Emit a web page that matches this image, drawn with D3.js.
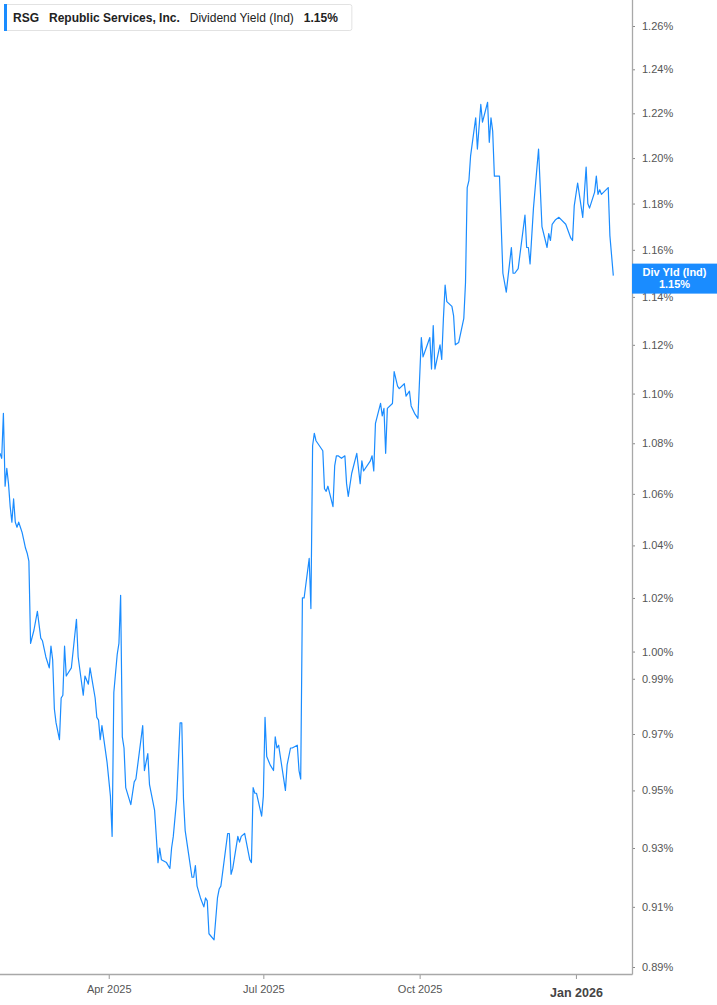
<!DOCTYPE html>
<html>
<head>
<meta charset="utf-8">
<script src="https://cdn.jsdelivr.net/npm/d3@7"></script>
<style>
  body { margin: 0; background: #fff; }
  svg { display: block; font-family: "Liberation Sans", Arial, sans-serif; }
</style>
</head>
<body>
<svg id="chart" width="717" height="1005"></svg>
<script>
// Dividend yield (Ind), RSG, daily readings in percent
const dates = [
  "2025-01-27", "2025-01-28", "2025-01-29", "2025-01-30", "2025-01-31",
  "2025-02-01", "2025-02-02", "2025-02-03", "2025-02-04", "2025-02-05", "2025-02-06", "2025-02-07",
  "2025-02-08", "2025-02-09", "2025-02-10", "2025-02-11", "2025-02-12", "2025-02-13", "2025-02-14",
  "2025-02-16", "2025-02-18", "2025-02-20", "2025-02-21", "2025-02-23", "2025-02-25", "2025-02-26",
  "2025-02-27", "2025-02-28",
  "2025-03-01", "2025-03-03", "2025-03-04", "2025-03-05", "2025-03-06", "2025-03-07", "2025-03-10",
  "2025-03-13", "2025-03-14", "2025-03-17", "2025-03-18", "2025-03-20", "2025-03-21", "2025-03-24",
  "2025-03-25", "2025-03-26", "2025-03-27", "2025-03-28", "2025-03-31",
  "2025-04-02", "2025-04-03", "2025-04-04", "2025-04-06", "2025-04-07", "2025-04-08", "2025-04-09",
  "2025-04-10", "2025-04-11", "2025-04-14", "2025-04-16", "2025-04-17", "2025-04-21", "2025-04-22",
  "2025-04-24", "2025-04-25", "2025-04-28", "2025-04-30",
  "2025-05-01", "2025-05-02", "2025-05-05", "2025-05-07", "2025-05-08", "2025-05-09", "2025-05-11",
  "2025-05-13", "2025-05-14", "2025-05-15", "2025-05-16", "2025-05-18", "2025-05-20", "2025-05-21",
  "2025-05-22", "2025-05-23", "2025-05-25", "2025-05-27", "2025-05-28", "2025-05-29", "2025-05-30",
  "2025-06-02", "2025-06-04", "2025-06-05", "2025-06-06", "2025-06-10", "2025-06-11", "2025-06-12",
  "2025-06-13", "2025-06-16", "2025-06-17", "2025-06-18", "2025-06-20", "2025-06-23", "2025-06-24",
  "2025-06-25", "2025-06-26", "2025-06-27", "2025-06-30",
  "2025-07-01", "2025-07-02", "2025-07-03", "2025-07-05", "2025-07-07", "2025-07-08", "2025-07-09",
  "2025-07-10", "2025-07-14", "2025-07-15", "2025-07-17", "2025-07-18", "2025-07-21", "2025-07-22",
  "2025-07-23", "2025-07-24", "2025-07-25", "2025-07-28", "2025-07-29", "2025-07-30", "2025-07-31",
  "2025-08-01", "2025-08-03", "2025-08-05", "2025-08-06", "2025-08-07", "2025-08-08", "2025-08-11",
  "2025-08-12", "2025-08-13", "2025-08-14", "2025-08-16", "2025-08-18", "2025-08-19", "2025-08-20",
  "2025-08-22", "2025-08-25", "2025-08-27", "2025-08-28", "2025-08-29",
  "2025-09-02", "2025-09-03", "2025-09-04", "2025-09-05", "2025-09-08", "2025-09-09", "2025-09-10",
  "2025-09-11", "2025-09-12", "2025-09-15", "2025-09-16", "2025-09-18", "2025-09-19", "2025-09-22",
  "2025-09-23", "2025-09-25", "2025-09-26", "2025-09-28", "2025-09-30",
  "2025-10-02", "2025-10-03", "2025-10-05", "2025-10-07", "2025-10-08", "2025-10-09", "2025-10-10",
  "2025-10-13", "2025-10-14", "2025-10-15", "2025-10-16", "2025-10-17", "2025-10-20", "2025-10-21",
  "2025-10-22", "2025-10-24", "2025-10-27", "2025-10-28", "2025-10-29", "2025-10-30", "2025-10-31",
  "2025-11-03", "2025-11-04", "2025-11-06", "2025-11-07", "2025-11-10", "2025-11-11", "2025-11-12",
  "2025-11-13", "2025-11-14", "2025-11-17", "2025-11-19", "2025-11-21", "2025-11-24", "2025-11-25",
  "2025-11-26", "2025-11-28",
  "2025-12-02", "2025-12-03", "2025-12-04", "2025-12-05", "2025-12-07", "2025-12-10", "2025-12-12",
  "2025-12-15", "2025-12-16", "2025-12-17", "2025-12-18", "2025-12-20", "2025-12-22", "2025-12-26",
  "2025-12-29", "2025-12-30", "2025-12-31",
  "2026-01-02", "2026-01-05", "2026-01-07", "2026-01-08", "2026-01-09", "2026-01-12", "2026-01-13",
  "2026-01-14", "2026-01-15", "2026-01-16", "2026-01-20", "2026-01-21", "2026-01-23"
];

const yields = [
  1.076, 1.074, 1.092, 1.063, 1.070, 1.064, 1.055, 1.049, 1.058, 1.049,
  1.047, 1.049, 1.047, 1.045, 1.042, 1.039, 1.037, 1.034, 1.003, 1.008,
  1.015, 1.005, 1.004, 0.998, 0.994, 1.002, 0.997, 0.979, 0.974, 0.968,
  0.983, 0.984, 1.002, 0.991, 0.994, 1.012, 0.998, 0.984, 0.991, 0.988,
  0.994, 0.983, 0.976, 0.975, 0.968, 0.973, 0.960, 0.948, 0.934, 0.985,
  0.999, 1.003, 1.021, 0.969, 0.965, 0.951, 0.945, 0.953, 0.954, 0.973,
  0.957, 0.963, 0.952, 0.943, 0.925, 0.930, 0.926, 0.925, 0.923, 0.930,
  0.934, 0.947, 0.974, 0.974, 0.947, 0.936, 0.928, 0.920, 0.920, 0.924,
  0.917, 0.913, 0.910, 0.913, 0.912, 0.901, 0.899, 0.913, 0.916, 0.917,
  0.935, 0.935, 0.921, 0.923, 0.934, 0.932, 0.934, 0.935, 0.926, 0.925,
  0.951, 0.949, 0.949, 0.941, 0.948, 0.976, 0.962, 0.959, 0.957, 0.969,
  0.965, 0.966, 0.950, 0.959, 0.965, 0.965, 0.966, 0.957, 0.954, 1.020,
  1.020, 1.035, 1.016, 1.079, 1.084, 1.081, 1.079, 1.077, 1.062, 1.061,
  1.063, 1.055, 1.071, 1.075, 1.075, 1.074, 1.075, 1.064, 1.059, 1.068,
  1.076, 1.064, 1.073, 1.069, 1.073, 1.075, 1.069, 1.088, 1.096, 1.091,
  1.094, 1.076, 1.094, 1.096, 1.109, 1.103, 1.102, 1.104, 1.099, 1.101,
  1.095, 1.092, 1.090, 1.123, 1.115, 1.119, 1.123, 1.110, 1.128, 1.110,
  1.120, 1.114, 1.131, 1.145, 1.138, 1.136, 1.132, 1.120, 1.121, 1.131,
  1.146, 1.187, 1.190, 1.201, 1.218, 1.204, 1.224, 1.216, 1.225, 1.207,
  1.218, 1.212, 1.192, 1.192, 1.150, 1.142, 1.161, 1.150, 1.150, 1.152,
  1.175, 1.161, 1.161, 1.154, 1.178, 1.204, 1.170, 1.161, 1.167, 1.164,
  1.171, 1.173, 1.174, 1.171, 1.165, 1.164, 1.179, 1.189, 1.174, 1.196,
  1.180, 1.178, 1.185, 1.192, 1.184, 1.186, 1.184, 1.187, 1.166, 1.149
];

const yTicks = [0.89, 0.91, 0.93, 0.95, 0.97, 0.99, 1.00, 1.02, 1.04, 1.06, 1.08,
  1.10, 1.12, 1.14, 1.16, 1.18, 1.20, 1.22, 1.24, 1.26];
const xTicks = ["2025-04-01", "2025-07-01", "2025-10-01", "2026-01-01"];
const xDomain = ["2025-01-27", "2026-02-03"];

const legendParts = [
  { text: "RSG", weight: "bold" },
  { text: "Republic Services, Inc.", weight: "bold" },
  { text: "Dividend Yield (Ind)", weight: "normal" },
  { text: "1.15%", weight: "bold" }
];

const lineColor = "#1a8cff";
const parseDate = d3.timeParse("%Y-%m-%d");
const data = dates.map((d, i) => ({ date: parseDate(d), value: yields[i] }));

// Set up SVG and plot area
const svg = d3.select("#chart");
const plotRight = 632;
const plotBottom = 974;

const x = d3
  .scaleTime()
  .domain(xDomain.map(parseDate))
  .range([0, plotRight]);

// log scale: tick spacing shrinks as the yield grows
const y = d3.scaleLog().domain([0.89, 1.26]).range([967, 26]);

svg
  .append("clipPath")
  .attr("id", "plotClip")
  .append("rect")
  .attr("x", 0)
  .attr("y", 0)
  .attr("width", plotRight)
  .attr("height", plotBottom);

// Right axis
const yAxis = svg
  .append("g")
  .attr("transform", `translate(${plotRight},0)`)
  .call(
    d3
      .axisRight(y)
      .tickValues(yTicks)
      .tickFormat((d) => d.toFixed(2) + "%")
      .tickSize(3)
      .tickPadding(7)
  );
yAxis.select(".domain").remove();
yAxis.selectAll(".tick line").attr("stroke", "#888");
yAxis
  .selectAll(".tick text")
  .attr("fill", "#555")
  .style("font-size", "11px")
  .style("font-family", '"Liberation Sans", Arial, sans-serif');

// Bottom axis
const xAxis = svg
  .append("g")
  .attr("transform", `translate(0,${plotBottom})`)
  .call(
    d3
      .axisBottom(x)
      .tickValues(xTicks.map(parseDate))
      .tickFormat(d3.timeFormat("%b %Y"))
      .tickSize(5)
      .tickPadding(6)
  );
xAxis.select(".domain").remove();
xAxis.selectAll(".tick line").attr("stroke", "#999");
xAxis
  .selectAll(".tick text")
  .attr("fill", "#555")
  .style("font-size", "11px")
  .style("font-family", '"Liberation Sans", Arial, sans-serif');
// new year label is bold
xAxis
  .selectAll(".tick text")
  .filter((d) => d.getMonth() === 0)
  .attr("fill", "#444")
  .attr("y", 14)
  .style("font-size", "12.5px")
  .style("font-weight", "bold");

// Frame lines
svg
  .append("line")
  .attr("x1", 0)
  .attr("x2", plotRight + 0.5)
  .attr("y1", plotBottom + 0.5)
  .attr("y2", plotBottom + 0.5)
  .attr("stroke", "#a8a8a8")
  .attr("stroke-width", 1.3);
svg
  .append("line")
  .attr("x1", plotRight + 0.5)
  .attr("x2", plotRight + 0.5)
  .attr("y1", 0)
  .attr("y2", plotBottom + 0.5)
  .attr("stroke", "#a8a8a8")
  .attr("stroke-width", 1.3);

// Yield line
const line = d3
  .line()
  .x((d) => x(d.date))
  .y((d) => y(d.value));

svg
  .append("path")
  .datum(data)
  .attr("clip-path", "url(#plotClip)")
  .attr("fill", "none")
  .attr("stroke", lineColor)
  .attr("stroke-width", 1.2)
  .attr("stroke-linejoin", "round")
  .attr("d", line);

// Last value marker on the axis
const last = data[data.length - 1];
const markerTop = y(last.value) - 12;
const marker = svg.append("g").attr("transform", `translate(${plotRight},${markerTop})`);
marker
  .append("rect")
  .attr("width", 717 - plotRight)
  .attr("height", 30)
  .attr("fill", lineColor);
marker
  .append("text")
  .attr("x", (717 - plotRight) / 2)
  .attr("y", 12.5)
  .attr("text-anchor", "middle")
  .attr("fill", "#fff")
  .style("font-size", "11px")
  .style("font-weight", "bold")
  .text("Div Yld (Ind)");
marker
  .append("text")
  .attr("x", (717 - plotRight) / 2)
  .attr("y", 24)
  .attr("text-anchor", "middle")
  .attr("fill", "#fff")
  .style("font-size", "11px")
  .style("font-weight", "bold")
  .text(last.value.toFixed(2) + "%");

// Legend box top left
const legend = svg.append("g");
const legendBg = legend
  .append("rect")
  .attr("x", 4.5)
  .attr("y", 4.5)
  .attr("height", 26)
  .attr("rx", 2)
  .attr("fill", "#fff")
  .attr("stroke", "#e2e2e2");
legend
  .append("rect")
  .attr("x", 4)
  .attr("y", 4)
  .attr("width", 3)
  .attr("height", 27)
  .attr("fill", lineColor);

let cursor = 13;
legendParts.forEach((p) => {
  const t = legend
    .append("text")
    .attr("x", cursor)
    .attr("y", 21.5)
    .attr("fill", "#222")
    .style("font-size", "12px")
    .style("font-weight", p.weight)
    .text(p.text);
  cursor += t.node().getComputedTextLength() + 10;
});
legendBg.attr("width", cursor + 4 - 4.5);
</script>
</body>
</html>
